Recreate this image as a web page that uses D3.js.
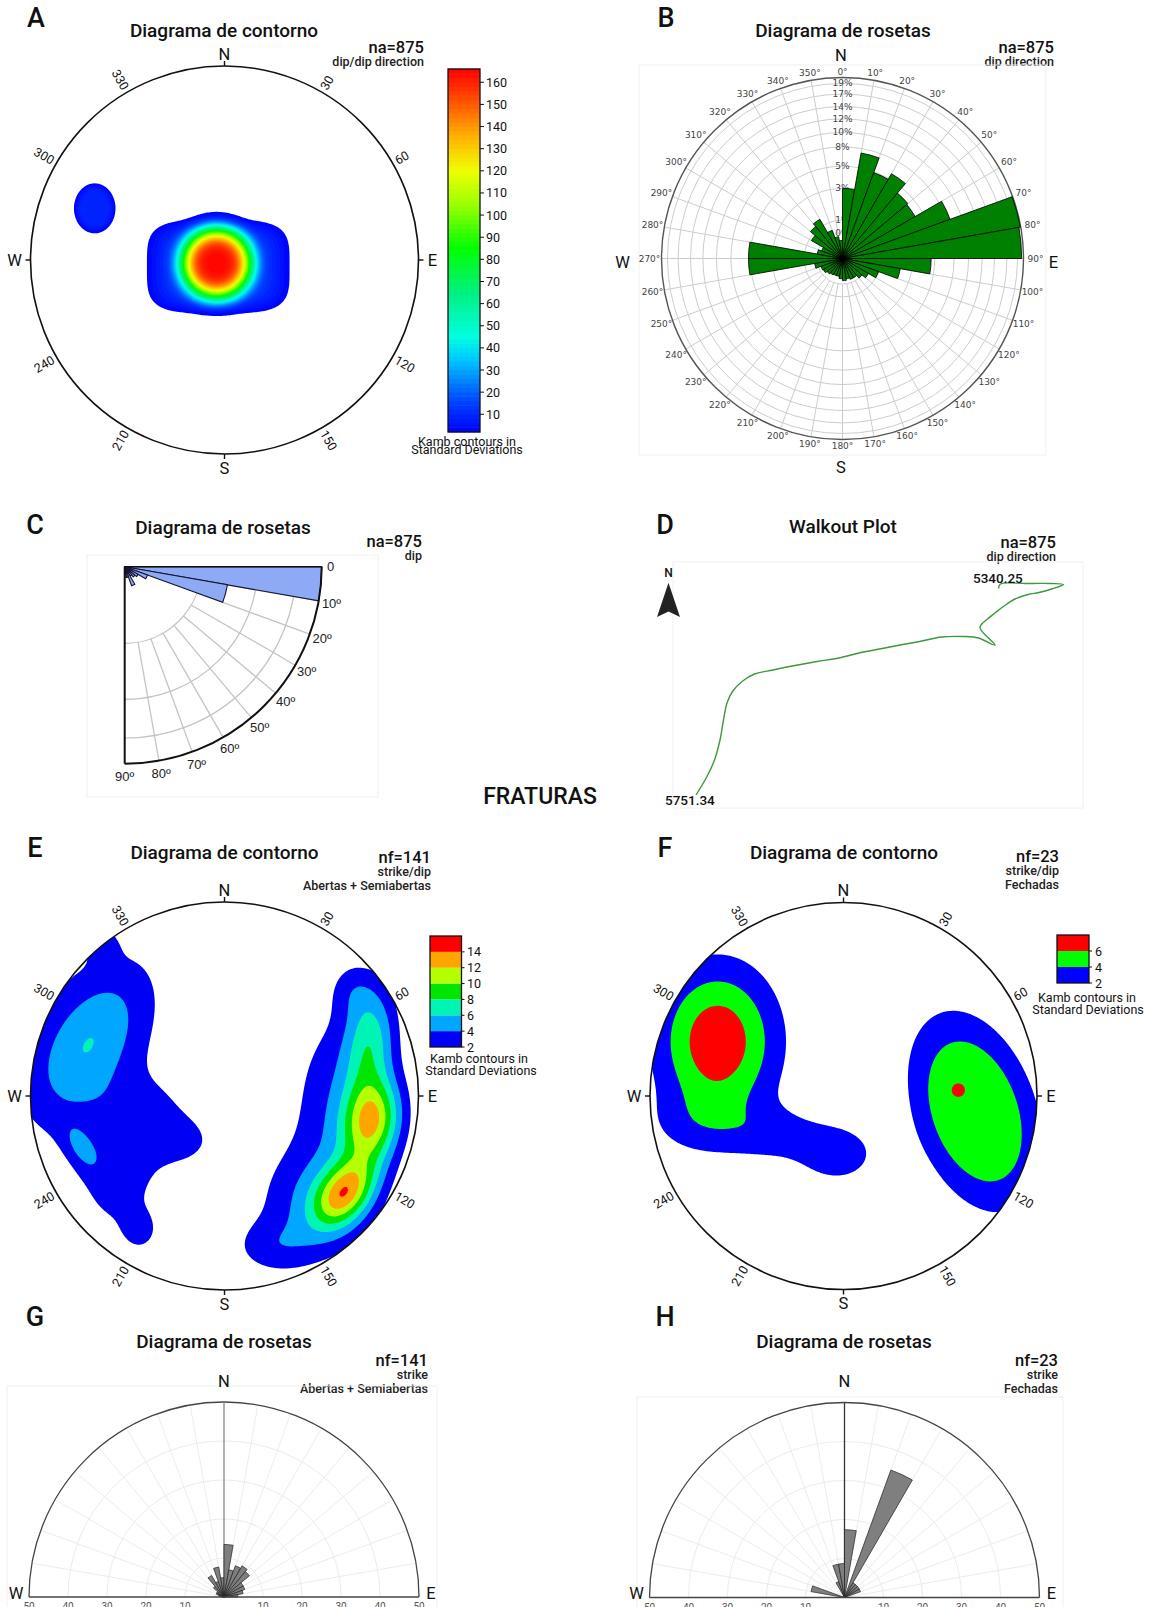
<!DOCTYPE html>
<html>
<head>
<meta charset="utf-8">
<script src="https://cdn.jsdelivr.net/npm/d3@7"></script>
<style>
  body { margin: 0; background: #fff; }
  svg { display: block; }
</style>
</head>
<body>
<svg id="fig" width="1150" height="1607"></svg>
<script>
// ---------------------------------------------------------------------------
// Data
// ---------------------------------------------------------------------------

// A — poles to bedding, density model (trend/plunge in degrees, spreads in net units)
const densityA = [
  { trend: 247.8, plunge: 86.4, weight: 151, s1: 0.154, s2: 0.154, tilt: 0, p: 4, q: 2 },
  { trend: 223.3, plunge: 86.2, weight: 14,  s1: 0.293, s2: 0.191, tilt: 0, p: 6, q: 4 },
  { trend: 291.7, plunge: 28.8, weight: 10,  s1: 0.088, s2: 0.106, tilt: 0, p: 6, q: 2 }
];
const levelsA = d3.range(2, 166, 2);
const colorbarTicksA = d3.range(10, 161, 10);

// B — dip direction rose, percent per 10° bin (0°, 10°, ... 350°)
const dipDirectionBins = d3.range(0, 360, 10);
const dipDirectionPct = [3.0, 7.0, 5.1, 5.85, 4.45, 4.3, 8.0, 19.9, 19.6, 4.8, 2.1, 0.9,
  0.55, 0.4, 0.3, 0.3, 0.26, 0.3, 0.25, 0.2, 0.2, 0.22, 0.25, 0.3,
  0.32, 0.49, 5.4, 5.4, 0.4, 0.3, 0.79, 1.07, 1.25, 0.55, 0.3, 0.2];
const dipDirectionRings = [0.4, 0.9, 3, 5.2, 7.6, 9.7, 11.9, 14.1, 16.5, 18.7];

// C — dip rose, counts per 10° bin (0–90°)
const dipBins = d3.range(0, 90, 10);
const dipCounts = [660, 185, 10, 4, 3, 2, 7, 2, 2];
const dipRings = [100, 300, 500];
const dipLabels = d3.range(0, 100, 10);

// D — walkout plot, offsets in metres from the top of the interval
const walkEast  = [0, 4, 55, 106, 130, 106, 81, 59, 33, 11, -7, -22, -37, -7, -40, -70, -114, -158,
  -202, -238, -275, -319, -363, -407, -451, -488, -513, -532, -543, -550, -557, -568, -583, -605];
const walkNorth = [0, 9, 10, 10, 8, -1, -8, -12, -21, -35, -49, -61, -78, -113, -99, -96, -97, -106,
  -114, -121, -128, -139, -146, -154, -163, -171, -186, -206, -229, -263, -303, -343, -376, -413];
const walkDepthTop = "5340.25";
const walkDepthBottom = "5751.34";

// E — open + semi-open fractures, density model
const densityE = [
  { trend: 291.1, plunge: 25.9, weight: 4.7,  s1: 0.30, s2: 0.16,  tilt: -57 },
  { trend: 292.6, plunge: 23.1, weight: 1.3,  s1: 0.35, s2: 0.50,  tilt: 0 },
  { trend: 254.1, plunge: 54.0, weight: 2.2,  s1: 0.20, s2: 0.16,  tilt: 0 },
  { trend: 219.8, plunge: 64.5, weight: 1.6,  s1: 0.12, s2: 0.09,  tilt: 0 },
  { trend: 230.7, plunge: 29.7, weight: 2.3,  s1: 0.16, s2: 0.22,  tilt: 0 },
  { trend: 250.0, plunge: 22.3, weight: 2.6,  s1: 0.10, s2: 0.05,  tilt: 58 },
  { trend: 211.6, plunge: 19.0, weight: 1.8,  s1: 0.07, s2: 0.08,  tilt: 0 },
  { trend: 321.0, plunge: 1.5,  weight: 2.1,  s1: 0.05, s2: 0.07,  tilt: 0 },
  { trend: 128.9, plunge: 21.4, weight: 10,   s1: 0.14, s2: 0.09,  tilt: -53 },
  { trend: 99.7,  plunge: 23.9, weight: 10,   s1: 0.15, s2: 0.10,  tilt: -80 },
  { trend: 69.5,  plunge: 21.0, weight: 6,    s1: 0.20, s2: 0.09,  tilt: -85 },
  { trend: 140.7, plunge: 29.7, weight: 3.5,  s1: 0.20, s2: 0.20,  tilt: 0 },
  { trend: 94.8,  plunge: 39.6, weight: 3.5,  s1: 0.18, s2: 0.35,  tilt: 0 },
  { trend: 162.2, plunge: 19.2, weight: 2.5,  s1: 0.15, s2: 0.10,  tilt: 0 },
  { trend: 50.2,  plunge: 15.2, weight: 2.0,  s1: 0.08, s2: 0.10,  tilt: 0 }
];
const levelsE = [2, 4, 6, 8, 10, 12, 14];
const colorsE = ["#0000f5", "#00a6ff", "#00f5b4", "#00e600", "#b4ff00", "#ffa500", "#ff0000"];

// F — closed fractures, density model
const densityF = [
  { trend: 293.4, plunge: 29.9, weight: 7.5,  s1: 0.217, s2: 0.277, tilt: 0 },
  { trend: 240.3, plunge: 56.9, weight: 2.2,  s1: 0.17,  s2: 0.10,  tilt: 0 },
  { trend: 185.7, plunge: 65.4, weight: 3.0,  s1: 0.16,  s2: 0.12,  tilt: 0 },
  { trend: 258.7, plunge: 24.5, weight: 1.8,  s1: 0.20,  s2: 0.12,  tilt: 0 },
  { trend: 96.7,  plunge: 32.1, weight: 4.94, s1: 0.465, s2: 0.273, tilt: 71, p: 4 },
  { trend: 87.0,  plunge: 40.5, weight: 1.4,  s1: 0.05,  s2: 0.05,  tilt: 0 }
];
const levelsF = [2, 4, 6];
const colorsF = ["#0000ff", "#00ff00", "#ff0000"];

// G / H — strike roses, counts per 10° bin from 270° through N to 90°
const strikeBins = d3.range(-90, 90, 10);
const strikeCountsG = [1, 2, 3, 3, 5, 9, 6, 11, 7, 19, 10, 12, 13, 12, 8, 8, 7, 5];
const strikeCountsH = [0, 2, 0, 0, 0, 0, 1, 2, 2, 4, 0, 8, 1, 1, 1, 1, 0, 0];
const strikeAxisTicks = [10, 20, 30, 40, 50];

const azimuthLabels = [30, 60, 120, 150, 210, 240, 300, 330];

// ---------------------------------------------------------------------------
// Helpers
// ---------------------------------------------------------------------------
const svg = d3.select("#fig");
const SANS = "Roboto, 'Noto Sans', sans-serif";
const MPL = "'DejaVu Sans', sans-serif";
const ARIAL = "'Liberation Sans', Arial, sans-serif";
const rad = d => d * Math.PI / 180;

function label(g, x, y, str, o = {}) {
  return g.append("text")
    .attr("x", x).attr("y", y).text(str)
    .attr("font-family", o.family || SANS)
    .attr("font-size", o.size || 14)
    .attr("font-weight", o.weight || 400)
    .attr("text-anchor", o.anchor || "middle")
    .attr("dominant-baseline", o.baseline || "central")
    .attr("fill", o.fill || "#111");
}

function header(letter, lx, ly, title, tx, ty, lines, rx, ry) {
  const g = svg.append("g");
  label(g, lx, ly, letter, { size: 27, weight: 500 });
  label(g, tx, ty, title, { size: 19, weight: 500 });
  lines.forEach((s, i) => {
    label(g, rx, ry + (i === 0 ? 0 : 14 + (i - 1) * 14.5), s,
      { size: i === 0 ? 16.5 : 12.5, weight: 500, anchor: "end", fill: i === 0 ? "#111" : "#222" });
  });
}

// Equal-area (Schmidt) lower-hemisphere position in unit-net coordinates, y down
function netXY(trend, plunge) {
  const r = Math.SQRT2 * Math.sin(rad((90 - plunge) / 2));
  return [r * Math.sin(rad(trend)), -r * Math.cos(rad(trend))];
}

function densityGrid(kernels, n) {
  const ks = kernels.map(k => {
    const [x, y] = netXY(k.trend, k.plunge);
    const a = rad(k.tilt || 0);
    return { ...k, x, y, c: Math.cos(a), s: Math.sin(a), p: k.p || 2, q: k.q || 2 };
  });
  const vals = new Float64Array(n * n);
  for (let j = 0; j < n; j++) {
    const y = -1 + (j + 0.5) * 2 / n;
    for (let i = 0; i < n; i++) {
      const x = -1 + (i + 0.5) * 2 / n;
      let v = 0;
      for (const k of ks) {
        const dx = x - k.x, dy = y - k.y;
        const u = (dx * k.c + dy * k.s) / k.s1;
        const w = (-dx * k.s + dy * k.c) / k.s2;
        const d = k.q === 2 ? Math.sqrt(u * u + w * w)
          : Math.pow(Math.pow(Math.abs(u), k.q) + Math.pow(Math.abs(w), k.q), 1 / k.q);
        v += k.weight * Math.exp(-0.5 * Math.pow(d, k.p));
      }
      vals[j * n + i] = v;
    }
  }
  return vals;
}

function drawDensity(cx, cy, R, clipId, kernels, levels, fill) {
  const n = 240;
  svg.append("clipPath").attr("id", clipId)
    .append("circle").attr("cx", cx).attr("cy", cy).attr("r", R);
  const values = densityGrid(kernels, n);
  const bands = d3.contours().size([n, n]).thresholds(levels)(values);
  const path = d3.geoPath(d3.geoIdentity().scale(2 * R / n).translate([cx - R, cy - R]));
  svg.append("g").attr("clip-path", `url(#${clipId})`)
    .selectAll("path").data(bands).join("path")
    .attr("d", path).attr("fill", d => fill(d.value)).attr("stroke", "none");
}

function netFrame(cx, cy, R) {
  const g = svg.append("g");
  g.append("circle").attr("cx", cx).attr("cy", cy).attr("r", R)
    .attr("fill", "none").attr("stroke", "#111").attr("stroke-width", 1.6);
  const cardinal = [["N", 0, 12], ["E", 90, 14], ["S", 180, 14], ["W", 270, 16]];
  cardinal.forEach(([s, a, off]) => {
    const sx = Math.sin(rad(a)), sy = -Math.cos(rad(a));
    g.append("line")
      .attr("x1", cx + sx * R).attr("y1", cy + sy * R)
      .attr("x2", cx + sx * (R + 5)).attr("y2", cy + sy * (R + 5))
      .attr("stroke", "#111").attr("stroke-width", 1.4);
    label(g, cx + sx * (R + off), cy + sy * (R + off), s, { size: 16.5 });
  });
  azimuthLabels.forEach(a => {
    const str = String(a);
    const rr = R + 4 + str.length * 3.4;
    const x = cx + Math.sin(rad(a)) * rr, y = cy - Math.cos(rad(a)) * rr;
    const rot = a < 180 ? a - 90 : a - 270;
    label(g, x, y, str, { size: 12.5 }).attr("transform", `rotate(${rot},${x},${y})`);
  });
}

function discreteColorbar(x, y0, y1, w, levels, top, colors, tickX) {
  const g = svg.append("g");
  const ys = d3.scaleLinear().domain([levels[0], top]).range([y1, y0]);
  const edges = levels.concat([top]);
  g.selectAll("rect").data(levels).join("rect")
    .attr("x", x).attr("width", w)
    .attr("y", (d, i) => ys(edges[i + 1])).attr("height", (d, i) => ys(edges[i]) - ys(edges[i + 1]))
    .attr("fill", (d, i) => colors[i]);
  g.append("rect").attr("x", x).attr("y", y0).attr("width", w).attr("height", y1 - y0)
    .attr("fill", "none").attr("stroke", "#111").attr("stroke-width", 1.3);
  levels.forEach(v => {
    g.append("line").attr("x1", x + w).attr("x2", x + w + 3).attr("y1", ys(v)).attr("y2", ys(v))
      .attr("stroke", "#111");
    label(g, tickX, ys(v), String(v), { size: 12.5, anchor: "start" });
  });
}

// ---------------------------------------------------------------------------
// A — contour diagram of bedding poles
// ---------------------------------------------------------------------------
header("A", 36, 18, "Diagrama de contorno", 224, 30, ["na=875", "dip/dip direction"], 424, 47);
const colorA = d3.scaleLinear()
  .domain([2, 15, 35, 45, 65, 85, 105, 120, 135, 150, 166])
  .range(["#0000ff", "#0040ff", "#00c8ff", "#00ffe0", "#00f080", "#00ff00",
          "#9cff00", "#f0ff00", "#ffb400", "#ff5a00", "#ff0000"])
  .clamp(true);
drawDensity(224.5, 260, 194, "clipA", densityA, levelsA, v => colorA(v + 1));
netFrame(224.5, 260, 194);
(function colorbarA() {
  const g = svg.append("g");
  const x = 448, w = 32;
  const ys = d3.scaleLinear().domain([2, 166]).range([432, 69]);
  g.selectAll("rect").data(levelsA).join("rect")
    .attr("x", x).attr("width", w)
    .attr("y", d => ys(d + 2) - 0.3).attr("height", d => ys(d) - ys(d + 2) + 0.6)
    .attr("fill", d => colorA(d + 1));
  g.append("rect").attr("x", x).attr("y", 69).attr("width", w).attr("height", 363)
    .attr("fill", "none").attr("stroke", "#111").attr("stroke-width", 1.3);
  colorbarTicksA.forEach(v => {
    g.append("line").attr("x1", x + w).attr("x2", x + w + 4).attr("y1", ys(v)).attr("y2", ys(v)).attr("stroke", "#111");
    label(g, x + w + 6, ys(v), String(v), { size: 12.5, anchor: "start" });
  });
  label(g, 467, 441, "Kamb contours in", { size: 12.5 });
  label(g, 467, 449, "Standard Deviations", { size: 12.5 });
})();

// ---------------------------------------------------------------------------
// B — dip direction rose
// ---------------------------------------------------------------------------
header("B", 666, 18, "Diagrama de rosetas", 843, 30, ["na=875", "dip direction"], 1054, 47);
(function roseB() {
  const cx = 842.5, cy = 258.5, R = 181;
  const g = svg.append("g");
  g.append("rect").attr("x", 639).attr("y", 65).attr("width", 407).attr("height", 390)
    .attr("fill", "none").attr("stroke", "#f0f0f0");
  const r = d3.scaleSqrt().domain([0, 20]).range([0, R]);
  const r0 = r(dipDirectionRings[0]);
  g.selectAll(".spoke").data(dipDirectionBins).join("line")
    .attr("x1", a => cx + r0 * Math.sin(rad(a))).attr("y1", a => cy - r0 * Math.cos(rad(a)))
    .attr("x2", a => cx + R * Math.sin(rad(a))).attr("y2", a => cy - R * Math.cos(rad(a)))
    .attr("stroke", "#cdcdcd").attr("stroke-width", 1);
  g.selectAll(".ring").data(dipDirectionRings).join("circle")
    .attr("cx", cx).attr("cy", cy).attr("r", d => r(d))
    .attr("fill", "none").attr("stroke", "#cdcdcd").attr("stroke-width", 1);
  g.append("circle").attr("cx", cx).attr("cy", cy).attr("r", R)
    .attr("fill", "none").attr("stroke", "#555").attr("stroke-width", 1.4);
  dipDirectionRings.forEach(v => {
    label(g, cx, cy - r(v), Math.round(v) + "%", { family: MPL, size: 9, fill: "#444" });
  });
  const arc = d3.arc().innerRadius(0).outerRadius(d => r(d.v))
    .startAngle(d => rad(d.a)).endAngle(d => rad(d.a + 10));
  g.append("g").attr("transform", `translate(${cx},${cy})`)
    .selectAll("path").data(dipDirectionBins.map((a, i) => ({ a, v: dipDirectionPct[i] })))
    .join("path").attr("d", arc)
    .attr("fill", "#008000").attr("stroke", "#000").attr("stroke-width", 0.8);
  g.append("circle").attr("cx", cx).attr("cy", cy).attr("r", 3.5).attr("fill", "#000");
  dipDirectionBins.forEach(a => {
    const rr = R + 6 + Math.abs(Math.sin(rad(a))) * 6;
    label(g, cx + rr * Math.sin(rad(a)), cy - rr * Math.cos(rad(a)), a + "°",
      { family: MPL, size: 9, fill: "#444" });
  });
  label(g, 841, 55, "N", { size: 16.5 });
  label(g, 841, 467, "S", { size: 16.5 });
  label(g, 622.5, 262, "W", { size: 16.5 });
  label(g, 1053.5, 262, "E", { size: 16.5 });
})();

// ---------------------------------------------------------------------------
// C — dip rose (quarter)
// ---------------------------------------------------------------------------
header("C", 35, 525, "Diagrama de rosetas", 223, 527, ["na=875", "dip"], 422, 541);
(function roseC() {
  const ax = 124.7, ay = 566.7, R = 197;
  const g = svg.append("g");
  g.append("rect").attr("x", 87).attr("y", 555).attr("width", 291).attr("height", 242)
    .attr("fill", "none").attr("stroke", "#f0f0f0");
  const r = d3.scaleSqrt().domain([0, d3.max(dipCounts)]).range([0, R]);
  const r0 = r(dipRings[0]);
  d3.range(10, 90, 10).forEach(a => {
    g.append("line")
      .attr("x1", ax + r0 * Math.cos(rad(a))).attr("y1", ay + r0 * Math.sin(rad(a)))
      .attr("x2", ax + R * Math.cos(rad(a))).attr("y2", ay + R * Math.sin(rad(a)))
      .attr("stroke", "#c4c4c4").attr("stroke-width", 1.3);
  });
  dipRings.forEach(v => {
    const p = d3.path(); p.arc(ax, ay, r(v), 0, Math.PI / 2);
    g.append("path").attr("d", p.toString()).attr("fill", "none").attr("stroke", "#c4c4c4").attr("stroke-width", 1.3);
  });
  const arc = d3.arc().innerRadius(0).outerRadius(d => r(d.v))
    .startAngle(d => rad(90 + d.a)).endAngle(d => rad(100 + d.a));
  g.append("g").attr("transform", `translate(${ax},${ay})`)
    .selectAll("path").data(dipBins.map((a, i) => ({ a, v: dipCounts[i] })))
    .join("path").attr("d", arc)
    .attr("fill", "#8eaaf5").attr("stroke", "#141432").attr("stroke-width", 1.1);
  const outer = d3.path(); outer.arc(ax, ay, R, 0, Math.PI / 2);
  g.append("path").attr("d", outer.toString()).attr("fill", "none").attr("stroke", "#111").attr("stroke-width", 2);
  g.append("line").attr("x1", ax).attr("y1", ay).attr("x2", ax).attr("y2", ay + R)
    .attr("stroke", "#111").attr("stroke-width", 2);
  g.append("line").attr("x1", ax).attr("y1", ay).attr("x2", ax + R).attr("y2", ay)
    .attr("stroke", "#111").attr("stroke-width", 1.6);
  dipLabels.forEach(a => {
    const rr = R + (a === 0 ? 9 : 13);
    label(g, ax + rr * Math.cos(rad(a)), ay + rr * Math.sin(rad(a)), a === 0 ? "0" : a + "º",
      { family: ARIAL, size: 13, fill: "#222" });
  });
})();

// ---------------------------------------------------------------------------
// D — walkout plot
// ---------------------------------------------------------------------------
header("D", 665, 525, "Walkout Plot", 843, 526, ["na=875", "dip direction"], 1056, 542);
(function walkout() {
  const g = svg.append("g");
  g.append("rect").attr("x", 673).attr("y", 562).attr("width", 410).attr("height", 246)
    .attr("fill", "none").attr("stroke", "#f0f0f0");
  const x = d3.scaleLinear().domain([-605, 130]).range([696, 1063.5]);
  const y = d3.scaleLinear().domain([-413, 10]).range([795, 583.5]);
  const line = d3.line().x((d, i) => x(walkEast[i])).y((d, i) => y(walkNorth[i])).curve(d3.curveCatmullRom);
  g.append("path").attr("d", line(walkEast)).attr("fill", "none")
    .attr("stroke", "#3a9a3a").attr("stroke-width", 1.4);
  label(g, 973, 578, walkDepthTop, { size: 13.5, weight: 500, anchor: "start" });
  label(g, 665, 800, walkDepthBottom, { size: 13.5, weight: 500, anchor: "start" });
  label(g, 668.5, 573, "N", { size: 12, weight: 500 });
  g.append("path").attr("d", "M668.5,582.7 L680,617 L668.5,611.5 L657,617 Z").attr("fill", "#222");
})();

label(svg, 540, 796, "FRATURAS", { size: 23, weight: 500 });

// ---------------------------------------------------------------------------
// E — contour diagram, open and semi-open fractures
// ---------------------------------------------------------------------------
header("E", 35, 848, "Diagrama de contorno", 224.5, 852, ["nf=141", "strike/dip", "Abertas + Semiabertas"], 431, 857);
const fillE = d3.scaleOrdinal().domain(levelsE).range(colorsE);
drawDensity(224.5, 1096, 194, "clipE", densityE, levelsE, v => fillE(v));
netFrame(224.5, 1096, 194);
discreteColorbar(430, 936, 1047, 31.5, levelsE, 16, colorsE, 467);
label(svg, 479, 1058, "Kamb contours in", { size: 12.5 });
label(svg, 481, 1070, "Standard Deviations", { size: 12.5 });

// ---------------------------------------------------------------------------
// F — contour diagram, closed fractures
// ---------------------------------------------------------------------------
header("F", 665, 848, "Diagrama de contorno", 844, 852, ["nf=23", "strike/dip", "Fechadas"], 1059, 856);
const fillF = d3.scaleOrdinal().domain(levelsF).range(colorsF);
drawDensity(843.5, 1096, 193.5, "clipF", densityF, levelsF, v => fillF(v));
netFrame(843.5, 1096, 193.5);
discreteColorbar(1057, 935, 983, 32, levelsF, 8, colorsF, 1095);
label(svg, 1087, 997, "Kamb contours in", { size: 12.5 });
label(svg, 1088, 1009, "Standard Deviations", { size: 12.5 });

// ---------------------------------------------------------------------------
// G / H — strike roses (half)
// ---------------------------------------------------------------------------
function halfRose(cx, cy, R, counts, box, nLine) {
  const g = svg.append("g");
  g.append("rect").attr("x", box[0]).attr("y", box[1]).attr("width", box[2]).attr("height", 300)
    .attr("fill", "none").attr("stroke", "#f0f0f0");
  const total = d3.sum(counts);
  const r = d3.scaleLinear().domain([0, 50]).range([0, R]);
  d3.range(-80, 90, 10).forEach(a => {
    if (a === 0) return;
    g.append("line").attr("x1", cx).attr("y1", cy)
      .attr("x2", cx + R * Math.sin(rad(a))).attr("y2", cy - R * Math.cos(rad(a)))
      .attr("stroke", "#ececec").attr("stroke-width", 1);
  });
  strikeAxisTicks.slice(0, -1).forEach(v => {
    const p = d3.path(); p.arc(cx, cy, r(v), Math.PI, 2 * Math.PI);
    g.append("path").attr("d", p.toString()).attr("fill", "none").attr("stroke", "#ececec");
  });
  const outer = d3.path(); outer.arc(cx, cy, R, Math.PI, 2 * Math.PI);
  g.append("path").attr("d", outer.toString()).attr("fill", "none").attr("stroke", "#444").attr("stroke-width", 1.3);
  g.append("line").attr("x1", cx).attr("y1", cy).attr("x2", cx).attr("y2", cy - R)
    .attr("stroke", nLine).attr("stroke-width", 1.3);
  const arc = d3.arc().innerRadius(0).outerRadius(d => r(d.v))
    .startAngle(d => rad(d.a)).endAngle(d => rad(d.a + 10));
  g.append("g").attr("transform", `translate(${cx},${cy})`)
    .selectAll("path").data(strikeBins.map((a, i) => ({ a, v: counts[i] / total * 100 })).filter(d => d.v > 0))
    .join("path").attr("d", arc)
    .attr("fill", "#7f7f7f").attr("stroke", "#222").attr("stroke-width", 0.7);
  g.append("line").attr("x1", cx - R).attr("y1", cy).attr("x2", cx + R).attr("y2", cy)
    .attr("stroke", "#444").attr("stroke-width", 1.3);
  strikeAxisTicks.forEach(v => {
    label(g, cx - r(v), cy + 6, String(v), { size: 10, fill: "#555", baseline: "hanging" });
    label(g, cx + r(v), cy + 6, String(v), { size: 10, fill: "#555", baseline: "hanging" });
  });
  label(g, cx, cy - R - 21, "N", { size: 16.5 });
  label(g, cx - R - 13, cy - 4, "W", { size: 16.5 });
  label(g, cx + R + 12, cy - 4, "E", { size: 16.5 });
}

header("G", 35, 1317, "Diagrama de rosetas", 224, 1341, ["nf=141", "strike", "Abertas + Semiabertas"], 428, 1360);
halfRose(224, 1597, 195, strikeCountsG, [7, 1386, 430], "#888");
header("H", 665, 1317, "Diagrama de rosetas", 844, 1341, ["nf=23", "strike", "Fechadas"], 1058, 1360);
halfRose(844.5, 1597.5, 195, strikeCountsH, [637, 1397, 426], "#333");
</script>
</body>
</html>
